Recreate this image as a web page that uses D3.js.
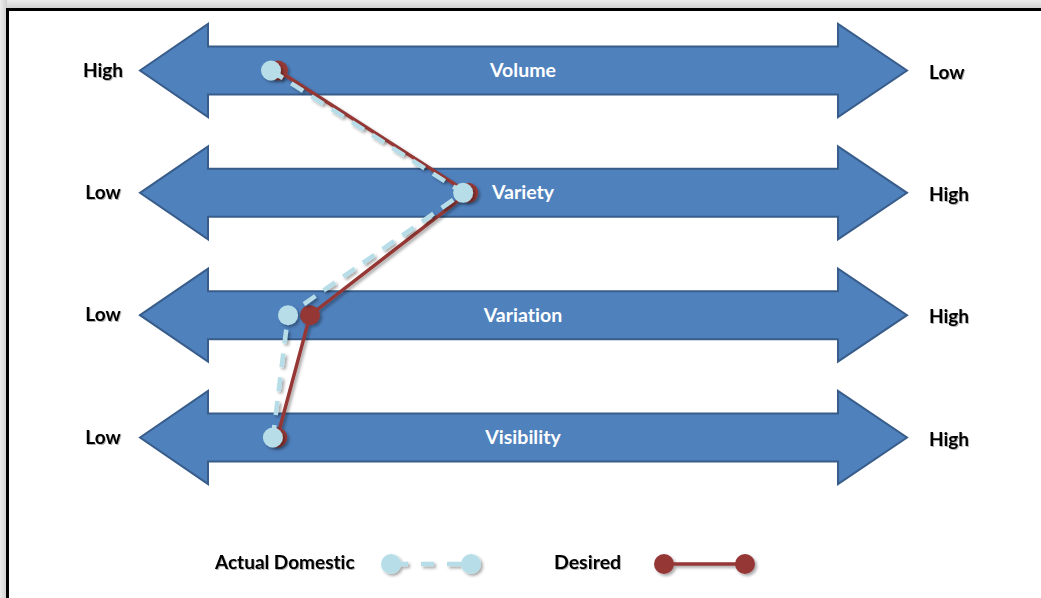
<!DOCTYPE html>
<html>
<head>
<meta charset="utf-8">
<script src="https://cdn.jsdelivr.net/npm/d3@7/dist/d3.min.js"></script>
<style>
  html, body { margin: 0; padding: 0; background: #fff; }
  svg { display: block; }
  text { font-family: Lato, "Open Sans", sans-serif; font-weight: bold; font-variant-ligatures: none; }
</style>
</head>
<body>
<svg id="chart" width="1041" height="598"></svg>
<script>
// ---- data ----
const categories = ["Volume", "Variety", "Variation", "Visibility"];
const leftLabels = ["High", "Low", "Low", "Low"];
const rightLabels = ["Low", "High", "High", "High"];
const actualDomestic = [10.0, 40.5, 12.7, 10.3];
const desired = [11.1, 41.3, 16.2, 11.0];
const seriesNames = ["Actual Domestic", "Desired"];

const W = 1041, H = 598;
const svg = d3.select("#chart");
const defs = svg.append("defs");

// frame gradient
const gh = defs.append("linearGradient").attr("id", "gTop").attr("x1", 0).attr("y1", 0).attr("x2", 0).attr("y2", 1);
gh.append("stop").attr("offset", 0).attr("stop-color", "#ececec");
gh.append("stop").attr("offset", 1).attr("stop-color", "#cfcfcf");
const gv = defs.append("linearGradient").attr("id", "gLeft").attr("x1", 0).attr("y1", 0).attr("x2", 1).attr("y2", 0);
gv.append("stop").attr("offset", 0).attr("stop-color", "#ececec");
gv.append("stop").attr("offset", 1).attr("stop-color", "#cfcfcf");

const sh = defs.append("filter").attr("id", "shadow").attr("x", "-50%").attr("y", "-50%").attr("width", "200%").attr("height", "200%");
sh.append("feDropShadow").attr("dx", 2).attr("dy", 2).attr("stdDeviation", 1.5)
  .attr("flood-color", "#000").attr("flood-opacity", 0.35);

const tsh = defs.append("filter").attr("id", "tshadow").attr("x", "-20%").attr("y", "-20%").attr("width", "140%").attr("height", "140%");
tsh.append("feDropShadow").attr("dx", 1).attr("dy", 1).attr("stdDeviation", 0.6)
  .attr("flood-color", "#000").attr("flood-opacity", 0.3);

svg.append("rect").attr("x", 0).attr("y", 0).attr("width", W).attr("height", 9).attr("fill", "url(#gTop)");
svg.append("rect").attr("x", 0).attr("y", 0).attr("width", 7).attr("height", H).attr("fill", "url(#gLeft)");
svg.append("rect").attr("x", 7).attr("y", 9).attr("width", W - 7).attr("height", H - 9).attr("fill", "#fff");
svg.append("path").attr("d", `M7.5,${H} V9.5 H${W}`).attr("fill", "none").attr("stroke", "#000").attr("stroke-width", 3);

// ---- scales ----
const x = d3.scaleLinear().domain([0, 100]).range([208, 838]);
const y = d3.scalePoint().domain(categories).range([70.5, 437.5]);

const tipL = 140, tipR = 907, shaftHalf = 24, headHalf = 46.5;

// ---- arrows ----
const arrows = svg.append("g");
categories.forEach((c, i) => {
  const cy = y(c);
  const x0 = x(0), x1 = x(100);
  const d = `M${tipL},${cy} L${x0},${cy - headHalf} L${x0},${cy - shaftHalf} L${x1},${cy - shaftHalf} L${x1},${cy - headHalf} L${tipR},${cy} L${x1},${cy + headHalf} L${x1},${cy + shaftHalf} L${x0},${cy + shaftHalf} L${x0},${cy + headHalf} Z`;
  arrows.append("path").attr("d", d).attr("fill", "#4f81bd").attr("stroke", "#385d8a").attr("stroke-width", 2).attr("stroke-linejoin", "miter");
  arrows.append("text").attr("x", x(50)).attr("y", cy + 6.5).attr("text-anchor", "middle")
    .attr("fill", "#fff").attr("font-size", 19.5).text(c);
  svg.append("text").attr("x", 103).attr("y", cy + 6).attr("text-anchor", "middle")
    .attr("fill", "#000").attr("font-size", 19).attr("filter", "url(#tshadow)").text(leftLabels[i]);
  svg.append("text").attr("x", 929).attr("y", cy + 8).attr("text-anchor", "start")
    .attr("fill", "#000").attr("font-size", 19).attr("filter", "url(#tshadow)").text(rightLabels[i]);
});

// ---- series ----
const red = "#953735", blue = "#b7dee8";
const line = d3.line().x(d => x(d.v)).y(d => y(d.c));
const desData = categories.map((c, i) => ({ c, v: desired[i] }));
const actData = categories.map((c, i) => ({ c, v: actualDomestic[i] }));

const gDes = svg.append("g").attr("filter", "url(#shadow)");
gDes.append("path").datum(desData).attr("d", line).attr("fill", "none").attr("stroke", red).attr("stroke-width", 3.5);
gDes.selectAll("circle").data(desData).join("circle").attr("cx", d => x(d.v)).attr("cy", d => y(d.c)).attr("r", 10).attr("fill", red);

const gAct = svg.append("g").attr("filter", "url(#shadow)");
gAct.append("path").datum(actData).attr("d", line).attr("fill", "none").attr("stroke", blue).attr("stroke-width", 4.5)
  .attr("stroke-dasharray", "14,10");
gAct.selectAll("circle").data(actData).join("circle").attr("cx", d => x(d.v)).attr("cy", d => y(d.c)).attr("r", 10).attr("fill", blue);

// ---- legend ----
const ly = 562;
const leg = svg.append("g");
leg.append("text").attr("x", 215).attr("y", ly + 6.5).attr("font-size", 19).attr("filter", "url(#tshadow)").text(seriesNames[0]);
leg.append("text").attr("x", 554).attr("y", ly + 6.5).attr("font-size", 19.5).attr("filter", "url(#tshadow)").text(seriesNames[1]);
const la = leg.append("g").attr("filter", "url(#shadow)");
la.append("line").attr("x1", 391).attr("x2", 471).attr("y1", ly + 2).attr("y2", ly + 2).attr("stroke", blue).attr("stroke-width", 4.5)
  .attr("stroke-dasharray", "17,13,13,13,40");
la.append("circle").attr("cx", 391).attr("cy", ly + 2).attr("r", 10).attr("fill", blue);
la.append("circle").attr("cx", 471).attr("cy", ly + 2).attr("r", 10).attr("fill", blue);
const ld = leg.append("g").attr("filter", "url(#shadow)");
ld.append("line").attr("x1", 664).attr("x2", 745).attr("y1", ly + 2).attr("y2", ly + 2).attr("stroke", red).attr("stroke-width", 3.5);
ld.append("circle").attr("cx", 664).attr("cy", ly + 2).attr("r", 10).attr("fill", red);
ld.append("circle").attr("cx", 745).attr("cy", ly + 2).attr("r", 10).attr("fill", red);
</script>
</body>
</html>
